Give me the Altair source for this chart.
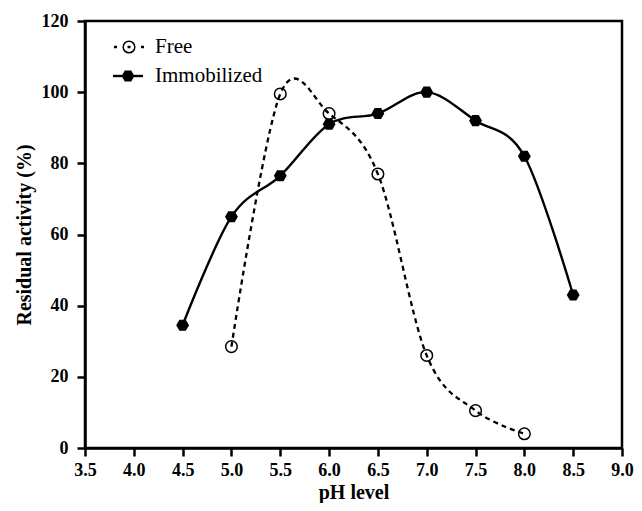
import altair as alt
import pandas as pd

free_ph = [5.0, 5.5, 6.0, 6.5, 7.0, 7.5, 8.0]
free_act = [28.5, 99.5, 94.0, 77.0, 26.0, 10.5, 4.0]
imm_ph = [4.5, 5.0, 5.5, 6.0, 6.5, 7.0, 7.5, 8.0, 8.5]
imm_act = [34.5, 65.0, 76.5, 91.0, 94.0, 100.0, 92.0, 82.0, 43.0]
x_ticks = [3.5, 4.0, 4.5, 5.0, 5.5, 6.0, 6.5, 7.0, 7.5, 8.0, 8.5, 9.0]
y_ticks = [0, 20, 40, 60, 80, 100, 120]

free = pd.DataFrame({"ph": free_ph, "act": free_act})
imm = pd.DataFrame({"ph": imm_ph, "act": imm_act})

FONT = "Liberation Serif"
HEX = "M-1,0L-0.5,-0.866L0.5,-0.866L1,0L0.5,0.866L-0.5,0.866Z"
W, H = 537, 427

xs = alt.Scale(domain=[3.5, 9.0], nice=False, zero=False)
ys = alt.Scale(domain=[0, 120], nice=False)
xax = alt.Axis(values=x_ticks, format=".1f", title="pH level", grid=False,
               labelFlush=False, labelPadding=5,
               titleBaseline="alphabetic", titleY=50, titleX=W / 2)
yax = alt.Axis(values=y_ticks, format="d", title="Residual activity (%)", grid=False,
               labelFlush=False, labelPadding=9,
               titleAngle=-90, titleBaseline="middle", titleAlign="center",
               titleX=-61, titleY=H / 2)

X = alt.X("ph:Q", scale=xs, axis=xax)
Y = alt.Y("act:Q", scale=ys, axis=yax)

free_line = alt.Chart(free).mark_line(
    interpolate="cardinal", tension=0, color="black", strokeWidth=2.3, strokeDash=[5, 4]
).encode(x=X, y=Y)
free_pts = alt.Chart(free).mark_point(
    shape="circle", filled=False, color="black", size=135, strokeWidth=1.5, opacity=1
).encode(x=X, y=Y)
imm_line = alt.Chart(imm).mark_line(
    interpolate="cardinal", tension=0, color="black", strokeWidth=2.4
).encode(x=X, y=Y)
imm_pts = alt.Chart(imm).mark_point(
    shape=HEX, filled=True, color="black", size=165, opacity=1
).encode(x=X, y=Y)

# manual legend (pixel positions inside the plot area)
leg = pd.DataFrame({"label": ["Free"]})
lg_free_line = alt.Chart(leg).mark_rule(color="black", strokeWidth=2.3, strokeDash=[3, 10.5]).encode(
    x=alt.value(29), x2=alt.value(59), y=alt.value(26))
lg_free_pt = alt.Chart(leg).mark_point(shape="circle", filled=False, color="black", size=135,
                                        strokeWidth=1.5, opacity=1).encode(
    x=alt.value(44), y=alt.value(26))
lg_free_txt = alt.Chart(leg).mark_text(align="left", baseline="middle", font=FONT, fontSize=21,
                                       color="black").encode(
    x=alt.value(70), y=alt.value(26), text=alt.value("Free"))
lg_imm_line = alt.Chart(leg).mark_rule(color="black", strokeWidth=2.4).encode(
    x=alt.value(28), x2=alt.value(58), y=alt.value(55))
lg_imm_pt = alt.Chart(leg).mark_point(shape=HEX, filled=True, color="black", size=165,
                                       opacity=1).encode(
    x=alt.value(43), y=alt.value(55))
lg_imm_txt = alt.Chart(leg).mark_text(align="left", baseline="middle", font=FONT, fontSize=21,
                                      color="black").encode(
    x=alt.value(70), y=alt.value(55), text=alt.value("Immobilized"))

chart = alt.layer(
    free_line, imm_line, free_pts, imm_pts,
    lg_free_line, lg_free_pt, lg_free_txt, lg_imm_line, lg_imm_pt, lg_imm_txt
).properties(
    width=W, height=H,
    autosize=alt.AutoSizeParams(type="none"),
    padding={"left": 77, "top": 13, "right": 12, "bottom": 55},
).configure_view(
    stroke="black", strokeWidth=2.5
).configure_axis(
    domainColor="black", domainWidth=2.5, tickColor="black", tickWidth=2.5, tickSize=8,
    labelFont=FONT, labelFontWeight="bold", labelFontSize=18, labelColor="black",
    titleFont=FONT, titleFontWeight="bold", titleFontSize=20, titleColor="black",
)

chart.save("out.html", embed_options={"renderer": "svg", "actions": False})
